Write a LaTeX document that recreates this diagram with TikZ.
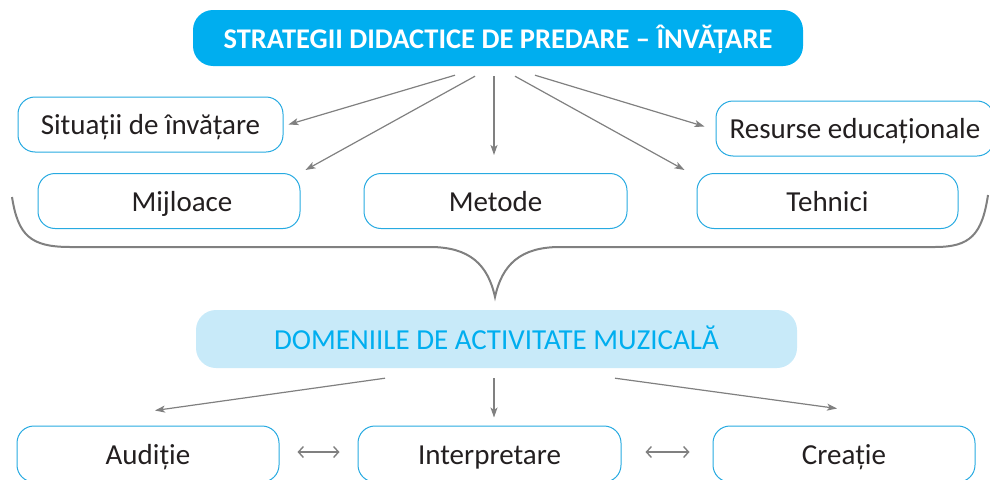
\documentclass[tikz,border=0pt]{standalone}
\usepackage{fontspec}
\setmainfont{Carlito}
\usetikzlibrary{arrows.meta,calc}
\definecolor{cy}{HTML}{00AEEF}
\definecolor{lb}{HTML}{C8EAF9}
\definecolor{bd}{HTML}{27AAE1}
\definecolor{gr}{HTML}{808080}
\definecolor{tx}{HTML}{231F20}
\begin{document}
\begin{tikzpicture}[x=1pt,y=-1pt,
 fixtext/.style={text height=24pt, text depth=4pt},
 box/.style={draw=bd, line width=1pt, rounded corners=17pt, minimum height=55pt, inner sep=0pt, fixtext, font=\fontsize{29}{32}\selectfont, text=tx},
 arr/.style={draw=gr, line width=1.2pt, -{Stealth[length=10pt,width=7pt,inset=2.5pt]}},
 dbl/.style={draw=gr, line width=1.4pt, {Straight Barb[length=5pt,width=11pt]}-{Straight Barb[length=5pt,width=11pt]}},
 brace/.style={draw=gr, line width=2pt}]
\useasboundingbox (0,0) rectangle (990,479);
\clip (0,0) rectangle (990,479);

\node[fill=cy, rounded corners=20pt, minimum width=610pt, minimum height=56pt, inner sep=0pt, fixtext, text=white, font=\bfseries\fontsize{28.5}{32}\selectfont] (top) at (498,38) {STRATEGII DIDACTICE DE PREDARE – ÎNVĂȚARE};

\node[box, minimum width=265pt] (sit) at (150.5,124.5) {Situații de învățare};
\node[box, minimum width=278pt] (res) at (855,128.5) {Resurse educaționale};
\node[box, minimum width=262pt] (mij) at (169,201) {\hspace{26pt}Mijloace};
\node[box, minimum width=263pt] (met) at (495.5,201) {Metode};
\node[box, minimum width=261pt] (teh) at (827.5,201) {Tehnici};

\draw[arr] ($(top.south)+(-43,9)$) -- ($(sit.east)+(5,0)$);
\draw[arr] ($(top.south)+(-23,10)$) -- ($(mij.north east)+(5,-3)$);
\draw[arr] ($(top.south)+(-4,10)$) -- ($(met.north)+(-1.5,-18)$);
\draw[arr] ($(top.south)+(17,10)$) -- ($(teh.north west)+(-12,-3)$);
\draw[arr] ($(top.south)+(37,9)$) -- ($(res.west)+(-11,-2)$);

\draw[brace] (12,197) .. controls (18,235) and (30,247) .. (70,247) -- (430,247) .. controls (470,247) and (488,265) .. (495,297) .. controls (502,265) and (520,247) .. (560,247) -- (935,247) .. controls (970,247) and (982,235) .. (988,195);

\node[fill=lb, rounded corners=20pt, minimum width=601pt, minimum height=58pt, inner sep=0pt, fixtext, text=cy, font=\fontsize{29}{32}\selectfont] (dom) at (496.5,339) {DOMENIILE DE ACTIVITATE MUZICALĂ};

\node[box, minimum width=262pt, minimum height=56pt] (aud) at (148,454) {Audiție};
\node[box, minimum width=263pt, minimum height=56pt] (int) at (489.5,454) {Interpretare};
\node[box, minimum width=262pt, minimum height=56pt] (cre) at (844,454) {Creație};

\draw[arr] ($(dom.south)+(-111.5,10)$) -- ($(aud.north)+(7,-15)$);
\draw[arr] ($(dom.south)+(-2.5,10)$) -- ($(int.north)+(4.5,-8)$);
\draw[arr] ($(dom.south)+(118.5,10)$) -- ($(cre.north)+(-7,-17)$);

\draw[dbl, shorten <=18pt, shorten >=18pt] ([yshift=2pt]aud.east) -- ([yshift=2pt]int.west);
\draw[dbl, shorten <=24pt, shorten >=23pt] ([yshift=2pt]int.east) -- ([yshift=2pt]cre.west);
\end{tikzpicture}
\end{document}
